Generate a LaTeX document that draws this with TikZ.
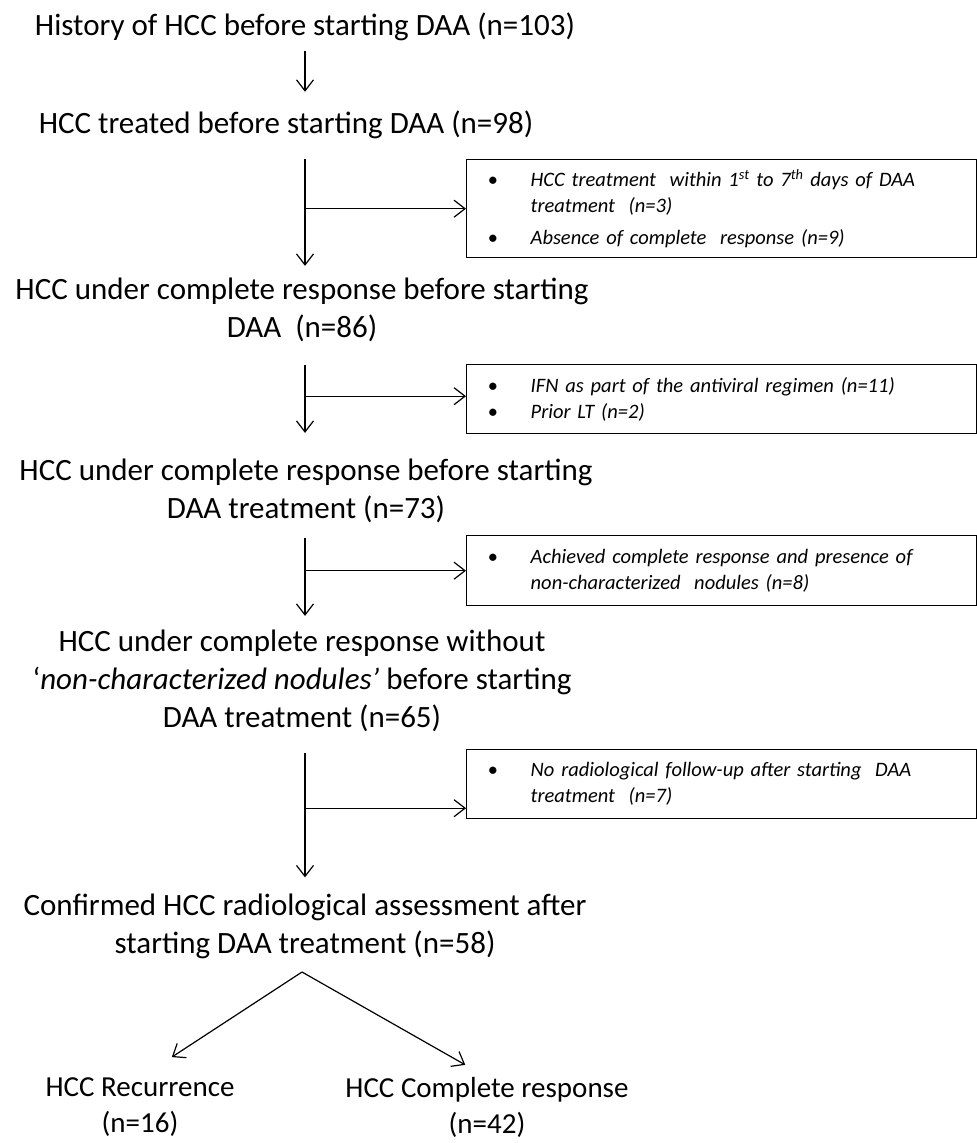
\documentclass[tikz,border=0pt]{standalone}
\usepackage{fontspec}
\setmainfont{Carlito}
\usetikzlibrary{arrows.meta}
\newcommand{\exclitem}[1]{\rightskip=0pt plus 1fil\hangindent=64pt\hangafter=1\hspace*{21pt}\makebox[43pt][l]{\textbullet}#1\par}
\begin{document}
\begin{tikzpicture}[x=1pt, y=-1pt,
  stage/.style={align=center, inner sep=0pt, font=\fontsize{31}{38}\selectfont},
  excl box/.style={draw, line width=1.4pt, anchor=north west, inner sep=0pt, text width=510pt, align=left, font=\fontsize{20.5}{26}\selectfont\itshape},
  flow/.style={line width=1.2pt, -{Straight Barb[length=11pt,width=17pt]}}]
\useasboundingbox (0,0) rectangle (977,1143);
\coordinate (spine) at (305,0);
% stages
\node[stage] (s1) at (305,27) {History of HCC before starting DAA (n=103)};
\node[stage] (s2) at (286,125) {HCC treated before starting DAA (n=98)};
\node[stage] (s3) at (302,310) {HCC under complete response before starting\\DAA\ \ (n=86)};
\node[stage] (s4) at (306,491) {HCC under complete response before starting\\DAA treatment (n=73)};
\node[stage] (s5) at (302,681) {HCC under complete response without\\‘\textit{non-characterized nodules’} before starting\\DAA treatment (n=65)};
\node[stage] (s6) at (305,926) {Confirmed HCC radiological assessment after\\starting DAA treatment (n=58)};
\node[stage, font=\fontsize{29}{36}\selectfont] (s7a) at (140,1107.5) {HCC Recurrence\\(n=16)};
\node[stage, font=\fontsize{29}{36}\selectfont] (s7b) at (487,1107.5) {HCC Complete response\\(n=42)};
% exclusions
\node[excl box, minimum height=98pt] (x1) at (466,159) {\exclitem{HCC treatment\ \ within 1\textsuperscript{st} to 7\textsuperscript{th} days of DAA\newline treatment\ \ (n=3)}\vspace{6pt}\exclitem{Absence of complete\ \ response (n=9)}};
\node[excl box, minimum height=69pt] (x2) at (466,364) {\exclitem{IFN as part of the antiviral regimen (n=11)}\exclitem{Prior LT (n=2)}};
\node[excl box, minimum height=70pt] (x3) at (466,535) {\exclitem{Achieved complete response and presence of\newline non-characterized\ \ nodules (n=8)}};
\node[excl box, minimum height=69pt] (x4) at (466,749) {\exclitem{No radiological follow-up after starting\ \ DAA\newline treatment\ \ (n=7)}};
% main flow
\draw[flow, shorten <=10pt, shorten >=19pt] (s1.south -| spine) -- (s2.north -| spine);
\draw[flow, shorten <=20pt, shorten >=12pt] (s2.south -| spine) -- (s3.north -| spine);
\draw[flow, shorten <=23pt, shorten >=26pt] (s3.south -| spine) -- (s4.north -| spine);
\draw[flow, shorten <=15pt, shorten >=14pt] (s4.south -| spine) -- (s5.north -| spine);
\draw[flow, shorten <=21pt, shorten >=16pt] (s5.south -| spine) -- (s6.north -| spine);
% side branches
\draw[flow] (x1.west -| spine) -- (x1.west);
\draw[flow] ([yshift=3pt]x2.west -| spine) -- ([yshift=3pt]x2.west);
\draw[flow] (x3.west -| spine) -- (x3.west);
\draw[flow] ([yshift=-24pt]x4.west -| spine) -- ([yshift=-24pt]x4.west);
% outcome split
\coordinate (fork) at (302,972);
\draw[flow, shorten >=38pt] (fork) -- (s7a.north);
\draw[flow, shorten >=25pt] (fork) -- (s7b.north);
\end{tikzpicture}
\end{document}
